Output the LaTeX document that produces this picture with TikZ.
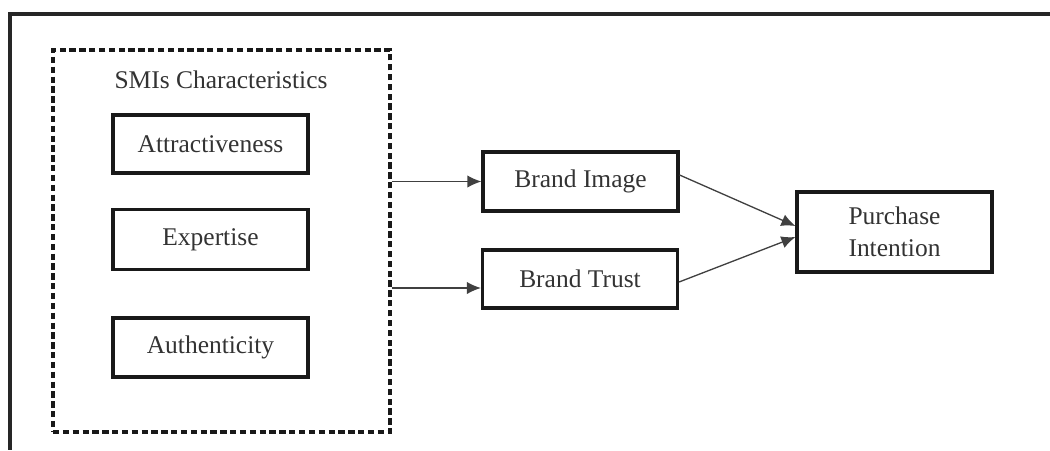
\documentclass[tikz,border=0pt]{standalone}
\usepackage{fontspec}
\setmainfont{Liberation Serif}
\usetikzlibrary{arrows.meta}
\begin{document}
\begin{tikzpicture}[x=0.02cm, y=-0.02cm,
    every node/.style={font=\fontsize{14.5}{18}\selectfont, text=black!80},
    box/.style={draw=black!90, line width=1.8pt, minimum width=3.9cm, align=center, inner sep=0pt},
    dashbox/.style={draw=black!90, line width=2pt, dash pattern=on 3.6pt off 2pt},
    arr/.style={draw=black!75, line width=0.75pt, -{Latex[length=8pt,width=7pt]}}]
    \useasboundingbox (0,0) rectangle (1050,450);
    % outer frame, only top and left sides
    \draw[line width=2pt, black!85] (1050,14) -- (10,14) -- (10,450);
    % characteristics group
    \node[dashbox, minimum width=6.74cm, minimum height=7.64cm] (smi) at (221.5,241) {};
    \node (smilabel) at (221,80) {SMIs Characteristics};
    \node[box, minimum height=1.16cm] (attr) at (210.5,144) {Attractiveness};
    \node[box, minimum height=1.2cm] (expe) at (210.5,239.5) {Expertise};
    \node[box, minimum height=1.18cm] (auth) at (210.5,347.5) {Authenticity};
    % mediators and outcome
    \node[box, minimum height=1.18cm] (img) at (580.5,181.5) {Brand Image};
    \node[box, minimum height=1.16cm] (trust) at (580,279) {Brand Trust};
    \node[box, minimum height=1.6cm] (pi) at (894.5,232) {Purchase\\Intention};
    \coordinate (t0) at (390,288);
    \draw[arr] (smi.east |- img.west) -- (img.west);
    \draw[arr] (smi.east |- t0) -- (trust.west |- t0);
    \draw[arr] ([yshift=0.13cm]img.east) -- ([yshift=0.12cm]pi.west);
    \draw[arr] ([yshift=-0.06cm]trust.east) -- ([yshift=-0.1cm]pi.west);
\end{tikzpicture}
\end{document}
